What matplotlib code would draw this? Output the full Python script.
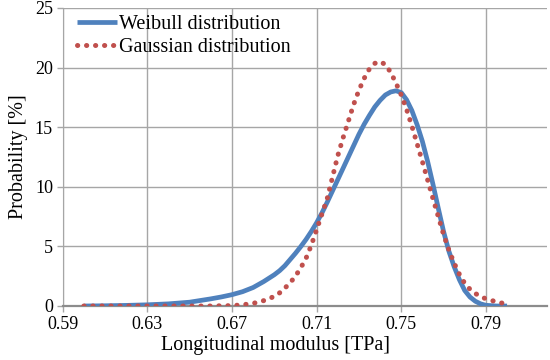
import numpy as np
import matplotlib
matplotlib.use("Agg")
import matplotlib.pyplot as plt

# modulus grid [TPa]
modulus = [0.600, 0.610, 0.620, 0.630, 0.640, 0.650, 0.660, 0.665, 0.670, 0.675,
           0.680, 0.685,
           0.6900, 0.6925, 0.6950, 0.6975, 0.7000, 0.7025, 0.7050, 0.7075,
           0.7100, 0.7125, 0.7150, 0.7175, 0.7200, 0.7225, 0.7250, 0.7275,
           0.7300, 0.7325, 0.7350, 0.7375, 0.7400, 0.7425, 0.7450, 0.7475,
           0.7500, 0.7525, 0.7550, 0.7575, 0.7600, 0.7625, 0.7650, 0.7675,
           0.7700, 0.7725, 0.7750, 0.7775, 0.7800, 0.7825, 0.7850, 0.7875,
           0.7900, 0.795, 0.800]

weibull = [0.00, 0.02, 0.05, 0.10, 0.18, 0.32, 0.60, 0.76, 0.95, 1.20,
           1.55, 2.05,
           2.62, 2.96, 3.38, 3.90, 4.42, 4.98, 5.58, 6.25,
           6.98, 7.80, 8.70, 9.65, 10.60, 11.55, 12.50, 13.45,
           14.40, 15.25, 16.00, 16.70, 17.25, 17.70, 17.95, 18.05,
           17.90, 17.30, 16.40, 15.20, 13.80, 12.10, 10.20, 8.20,
           6.25, 4.60, 3.30, 2.20, 1.30, 0.75, 0.40, 0.18,
           0.06, 0.00, 0.00]

gaussian = [0.00, 0.00, 0.00, 0.00, 0.00, 0.00, 0.00, 0.02, 0.03, 0.10,
            0.22, 0.45,
            0.80, 1.10, 1.50, 1.95, 2.50, 3.20, 4.00, 5.10,
            6.40, 7.70, 9.00, 10.80, 12.60, 14.10, 15.50, 16.90,
            18.10, 19.10, 19.90, 20.35, 20.50, 20.25, 19.60, 18.70,
            17.70, 16.50, 15.10, 13.60, 12.10, 10.55, 9.00, 7.50,
            6.00, 4.70, 3.60, 2.65, 1.90, 1.40, 1.05, 0.80,
            0.60, 0.35, 0.15]

xticks = [0.59, 0.63, 0.67, 0.71, 0.75, 0.79]
yticks = [0, 5, 10, 15, 20, 25]

plt.rcParams['font.family'] = ['Liberation Serif', 'DejaVu Serif']

fig = plt.figure(figsize=(5.5, 3.6), dpi=100)
ax = fig.add_axes([0.114, 0.15, 0.881, 0.828])

ax.plot(modulus, weibull, color='#4F81BD', linewidth=3.4, label='Weibull distribution',
        solid_capstyle='butt', solid_joinstyle='round', zorder=3)
ax.plot(modulus, gaussian, color='#C0504D', linewidth=3.6, linestyle=(0, (0.05, 1.75)),
        dash_capstyle='round', label='Gaussian distribution', zorder=4)

ax.set_xlim(0.59, 0.819)
ax.set_ylim(0, 25)
ax.set_xticks(xticks)
ax.set_xticklabels(['%.2f' % v for v in xticks])
ax.set_yticks(yticks)
ax.grid(True, color='#A6A6A6', linewidth=1.0)
ax.set_axisbelow(True)

for s in ['top', 'right']:
    ax.spines[s].set_visible(False)
ax.spines['left'].set_color('#A6A6A6')
ax.spines['bottom'].set_color('#8C8C8C')
ax.spines['bottom'].set_linewidth(1.6)
ax.tick_params(axis='both', colors='#A6A6A6', length=4, width=1.0, labelsize=13,
               labelcolor='black', pad=3)

ax.set_xlabel('Longitudinal modulus [TPa]', fontsize=14.5, labelpad=0)
ax.xaxis.set_label_coords((275 - 62.7) / (547 - 62.7), -0.1)
ax.xaxis.label.set_va('top')
ax.set_ylabel('Probability [%]', fontsize=14.5, labelpad=5)

ax.legend(loc='upper left', bbox_to_anchor=(0.0, 1.025), frameon=False, fontsize=14.5,
          handlelength=2.0, handletextpad=0.1, labelspacing=0.2, borderaxespad=0.3)

fig.savefig('out.png', dpi=100)
